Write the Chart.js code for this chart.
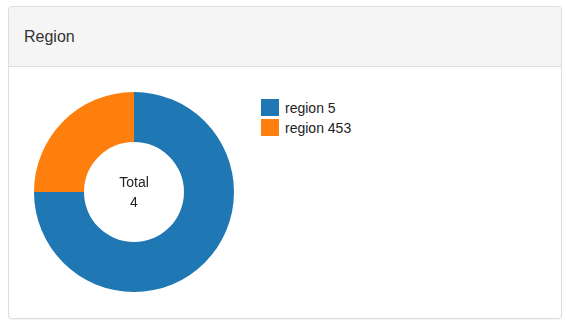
<!DOCTYPE html>
<html>
<head>
<meta charset="utf-8">
<script src="https://cdn.jsdelivr.net/npm/chart.js@4"></script>
<style>
  body { margin: 0; background: #fff; font-family: "Liberation Sans", Arial, sans-serif; }
  .panel { position: absolute; left: 8px; top: 6px; width: 552px; height: 311px;
           border: 1px solid #ddd; border-radius: 4px; box-shadow: 0 1px 1px rgba(0,0,0,.05); overflow: hidden; }
  .panel-heading { height: 59px; background: #f5f5f5; border-bottom: 1px solid #ddd;
                   color: #333; font-size: 16px; line-height: 59px; padding-left: 15px; }
  #chart-wrap { position: absolute; left: 34px; top: 92px; width: 200px; height: 200px; }
  #legend { position: absolute; left: 261px; top: 99px; font-size: 14px; color: #222; }
  #legend div { height: 20px; line-height: 18px; }
  #legend span { display: inline-block; width: 18px; height: 17px; vertical-align: top; margin-right: 6px; }
</style>
</head>
<body>
<div class="panel"><div class="panel-heading">Region</div></div>
<div id="chart-wrap"><canvas id="region-chart" width="200" height="200"></canvas></div>
<div id="legend"></div>
<script>
let regions = ['region 5', 'region 453'];
let counts = [3, 1];
let colors = ['#1f77b4', '#ff7f0e'];

const total = counts.reduce((a, b) => a + b, 0);

const centerText = {
  id: 'centerText',
  afterDraw(chart) {
    const meta = chart.getDatasetMeta(0).data[0];
    const c = chart.ctx;
    c.save();
    c.fillStyle = '#222';
    c.font = '14px "Liberation Sans", Arial, sans-serif';
    c.textAlign = 'center';
    c.textBaseline = 'middle';
    c.fillText('Total', meta.x, meta.y - 9);
    c.fillText(String(total), meta.x, meta.y + 11);
    c.restore();
  }
};

const ctx = document.getElementById('region-chart').getContext('2d');
let regionChart = new Chart(ctx, {
  type: 'doughnut',
  data: {
    labels: regions,
    datasets: [{
      data: counts,
      backgroundColor: colors,
      borderWidth: 0
    }]
  },
  options: {
    responsive: false,
    animation: false,
    cutout: '50%',
    plugins: {
      legend: { display: false },
      tooltip: { enabled: false }
    }
  },
  plugins: [centerText]
});

document.getElementById('legend').innerHTML = regions.map((r, i) =>
  '<div><span style="background:' + colors[i] + '"></span>' + r + '</div>').join('');
</script>
</body>
</html>
